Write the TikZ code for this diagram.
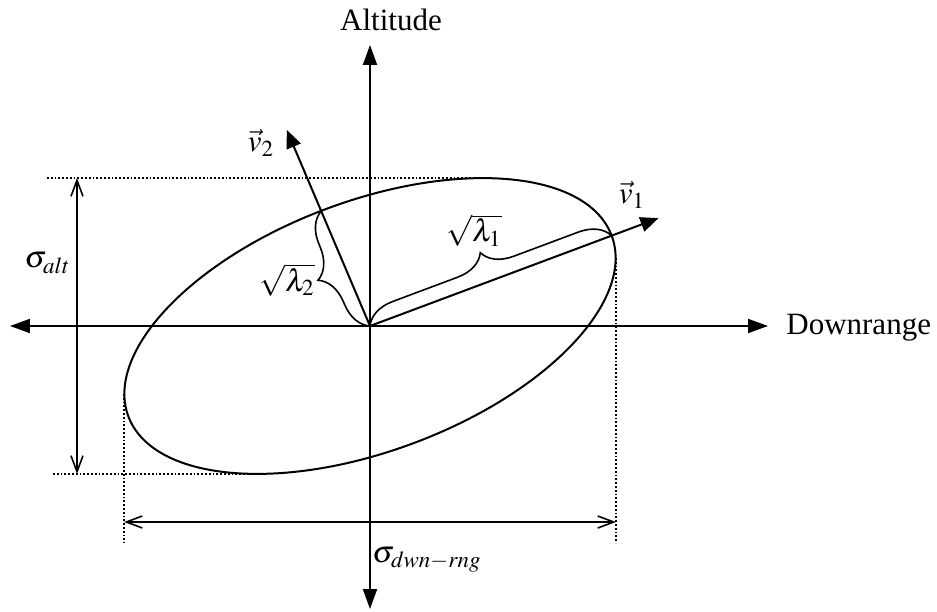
\documentclass[tikz,border=0pt]{standalone}
\usepackage{amsmath}
\usepackage{mathptmx}
\usepackage[no-math]{fontspec}
\setmainfont{Liberation Serif}
\usepackage{tikz}
\usetikzlibrary{
arrows.meta,
positioning,
decorations.pathreplacing,
calc
}

\tikzset{
  lbl/.style={font=\fontsize{15.5}{18}\selectfont, inner sep=1pt},
  axisline/.style={line width=1pt, {Triangle[length=10pt,width=7pt]}-{Triangle[length=10pt,width=7pt]}},
  eigline/.style={line width=1pt, -{Triangle[length=9pt,width=7.5pt]}},
  sigline/.style={line width=0.8pt, {Straight Barb[length=8pt,width=6pt]}-{Straight Barb[length=8pt,width=6pt]}},
  guide/.style={line width=0.9pt, densely dotted},
  brc/.style={line width=0.8pt, decorate, decoration={brace, amplitude=15pt}}
}

\begin{document}
\begin{tikzpicture}[x=0.5pt, y=0.5pt]

\useasboundingbox (-370,-285) rectangle (567,326);

% Origin and axes
\coordinate (O) at (0,0);
\coordinate (west) at (-360,0);
\coordinate (east) at (398,0);
\coordinate (north) at (0,281);
\coordinate (south) at (0,-283);
\draw[axisline] (west) -- (east);
\draw[axisline] (south) -- (north);
\node[lbl] (alt) at (21,306) {Altitude};
\node[lbl, anchor=west] (dwn) at (414,-2) {Downrange};

% Error ellipse
\draw[line width=1pt, rotate=20.5] (O) ellipse [x radius=258, y radius=125];

% Extent guides
\draw[guide] (-323,148) -- (113,148);
\draw[guide] (-317,-148) -- (-113,-148);
\draw[guide] (-246,-68) -- (-246,-217);
\draw[guide] (246,68) -- (246,-217);

% Sigma arrows
\coordinate (alttop) at (-293,148);
\coordinate (altbot) at (-293,-148);
\draw[sigline] (altbot) -- (alttop);
\node[lbl, anchor=east] (salt) at (-297,63) {$\sigma_{alt}$};
\coordinate (dwnl) at (-246,-196);
\coordinate (dwnr) at (246,-196);
\draw[sigline] (dwnl) -- (dwnr);
\node[lbl] (sdwn) at (57,-234) {$\sigma_{dwn-rng}$};

% Eigenvectors
\coordinate (v1tip) at (20.5:308);
\coordinate (v2tip) at (113:213);
\coordinate (e1) at (20.5:258);
\coordinate (e2) at (113:125);
\draw[eigline] (O) -- (v1tip);
\draw[eigline] (O) -- (v2tip);
\node[lbl] (v1) at (262,131) {$\vec{v}_1$};
\node[lbl] (v2) at (-109,183) {$\vec{v}_2$};

% Square-root eigenvalue braces
\draw[brc] (O) -- (e1);
\draw[brc] (O) -- (e2);
\node[lbl, anchor=south] (l1) at (104,77) {$\sqrt{\lambda_1}$};
\node[lbl, anchor=east] (l2) at (-53,46) {$\sqrt{\lambda_2}$};

\end{tikzpicture}
\end{document}
